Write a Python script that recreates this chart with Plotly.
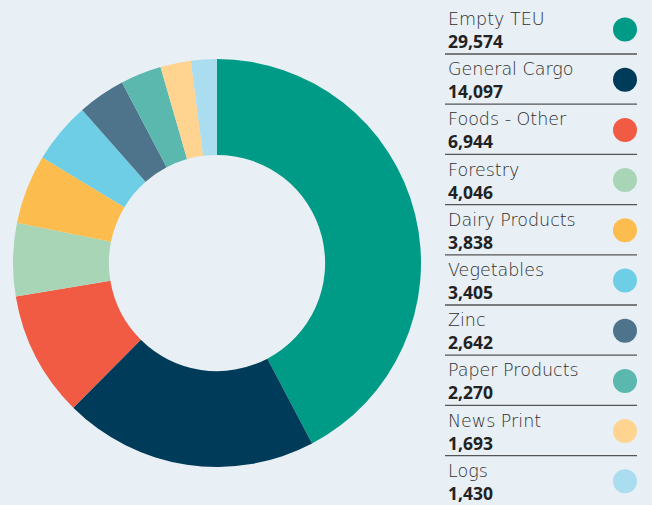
import plotly.graph_objects as go

categories = ["Empty TEU", "General Cargo", "Foods - Other", "Forestry", "Dairy Products",
              "Vegetables", "Zinc", "Paper Products", "News Print", "Logs"]
values = [29574, 14097, 6944, 4046, 3838, 3405, 2642, 2270, 1693, 1430]
colors = ["#009B86", "#003B5A", "#F15B43", "#A8D5B6", "#FDBD4E",
          "#6DCEE5", "#4E748B", "#5BB8AE", "#FFD491", "#A9DDEF"]

W, H = 652, 505
BG = "#E8EFF5"

fig = go.Figure()
fig.add_trace(go.Pie(
    labels=categories, values=values, sort=False, direction="clockwise", rotation=0,
    hole=0.53, marker=dict(colors=colors, line=dict(width=0)),
    textinfo="none", hoverinfo="label+value", showlegend=False,
    domain=dict(x=[13 / W, 421 / W], y=[1 - 468 / H, 1 - 58 / H]),
))

# custom legend list on the right
row0, step = 19, 50.2
text_x, dot_x = 446, 625
annotations, shapes = [], []
dot_y = []
for i, (cat, val) in enumerate(zip(categories, values)):
    y = row0 + i * step
    annotations.append(dict(x=text_x, y=y, xref="x", yref="y", text=cat, showarrow=False,
                            xanchor="left", yanchor="middle",
                            font=dict(family="DejaVu Sans", size=17.5, color="#2e2e2e", weight=200)))
    annotations.append(dict(x=text_x, y=y + 22, xref="x", yref="y", text=f"{val:,}", showarrow=False,
                            xanchor="left", yanchor="middle",
                            font=dict(family="Open Sans", size=17.5, color="#222222", weight=700)))
    dot_y.append(y + 10.5)
    if i < len(categories) - 1:
        shapes.append(dict(type="line", xref="x", yref="y", x0=445, x1=637, y0=y + 35, y1=y + 35,
                           line=dict(color="#555555", width=1.3)))

fig.add_trace(go.Scatter(x=[dot_x] * len(categories), y=dot_y, mode="markers",
                         marker=dict(size=24, color=colors, line=dict(width=0)),
                         hoverinfo="skip", showlegend=False))

fig.update_layout(
    width=W, height=H, margin=dict(l=0, r=0, t=0, b=0),
    paper_bgcolor=BG, plot_bgcolor=BG,
    xaxis=dict(range=[0, W], visible=False, fixedrange=True, domain=[0, 1]),
    yaxis=dict(range=[H, 0], visible=False, fixedrange=True, domain=[0, 1]),
    annotations=annotations, shapes=shapes,
)

fig.write_html("out.html", config={"displayModeBar": False},
               post_script="document.body.style.margin='0';document.body.style.background='" + BG + "';")
